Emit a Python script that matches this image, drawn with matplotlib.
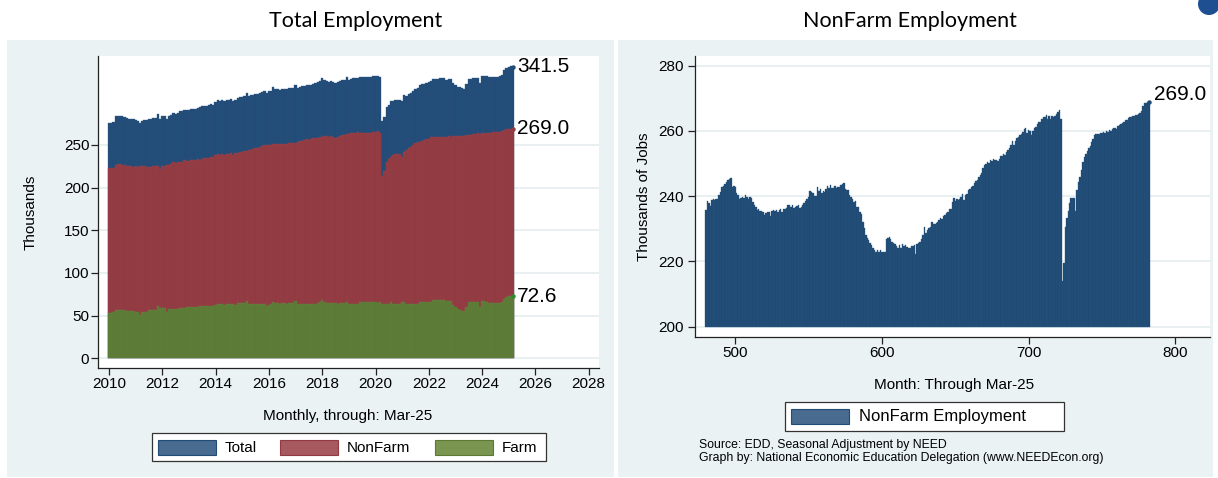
import numpy as np
import matplotlib
matplotlib.use("Agg")
import matplotlib.pyplot as plt
from matplotlib.patches import Rectangle, Circle
import matplotlib.transforms as mtransforms

plt.rcParams['font.family'] = ['Liberation Sans', 'DejaVu Sans']

# ---------------- data (thousands of jobs, monthly) ----------------
# NonFarm employment, Jan-2000 .. Mar-2025 (Stata monthly index 480 .. 782)
nf_2000 = [235.7, 238.5, 237.8, 237.0, 238.8, 239.1, 238.8, 239.1, 239.1, 240.3, 241.3, 242.7]
nf_2001 = [243.2, 243.6, 244.4, 244.9, 245.2, 245.6, 242.9, 243.2, 242.9, 241.1, 240.5, 239.1]
nf_2002 = [239.5, 239.8, 239.5, 240.3, 239.8, 239.1, 239.8, 239.3, 238.3, 237.4, 236.7, 235.7]
nf_2003 = [236.0, 235.4, 235.4, 235.2, 234.2, 234.7, 235.2, 235.2, 234.0, 235.4, 235.7, 235.4]
nf_2004 = [235.7, 235.2, 235.7, 236.0, 235.2, 236.2, 236.0, 236.4, 237.2, 237.4, 236.7, 237.2]
nf_2005 = [236.4, 236.7, 237.0, 237.2, 236.4, 236.7, 237.4, 237.8, 238.5, 239.1, 239.8, 241.5]
nf_2006 = [241.3, 241.1, 240.1, 240.1, 242.9, 241.5, 242.3, 241.1, 241.5, 241.3, 242.3, 243.2]
nf_2007 = [242.6, 243.4, 242.6, 242.6, 243.2, 242.6, 242.9, 242.9, 243.4, 243.6, 243.9, 242.3]
nf_2008 = [241.8, 241.8, 240.3, 239.8, 239.1, 238.3, 238.5, 236.7, 236.7, 235.2, 234.4, 232.1]
nf_2009 = [230.3, 228.1, 227.2, 226.5, 225.5, 225.0, 224.0, 223.5, 223.0, 223.5, 223.0, 223.5]
nf_2010 = [222.8, 223.0, 222.8, 226.8, 227.2, 227.6, 227.0, 226.0, 225.8, 225.2, 224.8, 224.2]
nf_2011 = [225.0, 224.2, 225.2, 224.8, 225.0, 224.5, 224.2, 224.0, 224.8, 224.8, 225.0, 222.4]
nf_2012 = [225.2, 225.5, 226.0, 227.0, 228.1, 230.6, 228.6, 229.6, 230.3, 230.6, 232.1, 231.6]
nf_2013 = [231.6, 231.9, 232.1, 232.7, 233.2, 233.0, 234.0, 234.2, 234.7, 235.0, 236.2, 236.0]
nf_2014 = [238.3, 239.5, 238.5, 239.1, 238.8, 239.1, 239.8, 240.8, 238.8, 240.3, 240.8, 241.8]
nf_2015 = [242.1, 242.9, 243.2, 243.9, 244.6, 244.9, 245.9, 246.6, 247.2, 248.7, 249.5, 250.0]
nf_2016 = [250.5, 250.3, 251.0, 250.7, 251.3, 251.0, 251.0, 250.7, 251.3, 252.3, 252.3, 252.8]
nf_2017 = [252.6, 253.6, 254.1, 254.8, 255.8, 256.8, 255.6, 256.8, 257.7, 258.2, 258.7, 259.2]
nf_2018 = [259.7, 260.7, 260.9, 259.5, 260.2, 259.9, 258.7, 259.9, 260.9, 261.2, 262.2, 262.8]
nf_2019 = [262.6, 263.6, 264.3, 264.3, 264.8, 263.8, 264.6, 263.6, 264.6, 264.3, 264.6, 265.3]
nf_2020 = [265.8, 266.3, 263.8, 214.0, 219.4, 230.6, 233.2, 235.4, 237.8, 239.5, 239.5, 239.3]
nf_2021 = [235.5, 242.0, 244.5, 246.0, 248.0, 250.5, 252.0, 253.0, 254.0, 254.7, 255.5, 256.5]
nf_2022 = [257.5, 258.8, 259.0, 259.2, 259.0, 259.5, 259.3, 259.8, 259.5, 260.0, 259.8, 260.2]
nf_2023 = [260.0, 260.5, 260.8, 261.0, 260.5, 261.5, 261.8, 262.0, 262.5, 262.8, 263.5, 263.2]
nf_2024 = [264.0, 264.2, 264.4, 264.5, 264.6, 264.8, 265.0, 265.2, 265.4, 266.0, 267.5, 268.5]
nf_2025 = [268.6, 268.8, 269.0]

# Farm employment, Jan-2010 .. Mar-2025
fa_2010 = [52.7, 52.7, 53.9, 56.6, 56.6, 56.6, 56.6, 56.6, 56.0, 55.8, 55.8, 55.8]
fa_2011 = [53.9, 53.9, 50.7, 53.9, 53.9, 54.5, 56.6, 56.6, 56.6, 57.0, 61.3, 58.5]
fa_2012 = [58.5, 58.5, 53.9, 57.4, 57.4, 57.4, 57.4, 57.4, 59.4, 59.4, 59.4, 60.0]
fa_2013 = [60.0, 60.0, 60.5, 60.0, 60.5, 61.3, 61.3, 61.3, 61.3, 61.3, 61.8, 61.3]
fa_2014 = [62.0, 63.3, 63.3, 63.3, 62.8, 63.3, 63.3, 63.3, 63.3, 63.0, 64.4, 64.4]
fa_2015 = [64.4, 64.4, 67.2, 63.7, 63.7, 64.0, 63.7, 63.7, 64.0, 63.7, 63.7, 61.3]
fa_2016 = [63.0, 63.5, 66.4, 64.4, 64.4, 64.0, 64.4, 64.4, 64.0, 64.4, 64.4, 64.4]
fa_2017 = [67.2, 63.7, 63.7, 64.0, 63.7, 63.7, 64.2, 63.7, 63.7, 64.0, 65.0, 65.5]
fa_2018 = [68.3, 65.5, 64.4, 64.4, 64.8, 64.4, 64.4, 64.0, 64.4, 64.4, 64.4, 66.4]
fa_2019 = [63.7, 63.7, 63.7, 64.0, 63.7, 65.6, 65.6, 65.6, 65.6, 65.8, 65.6, 65.6]
fa_2020 = [65.6, 64.8, 65.6, 63.7, 63.7, 63.7, 63.7, 65.6, 63.7, 63.7, 63.7, 63.7]
fa_2021 = [66.4, 66.4, 63.3, 63.3, 63.3, 63.3, 63.3, 63.3, 66.4, 66.4, 66.4, 66.4]
fa_2022 = [66.4, 66.4, 68.7, 68.7, 68.7, 68.7, 68.7, 68.7, 67.2, 67.2, 67.2, 62.0]
fa_2023 = [60.0, 58.0, 57.0, 56.0, 55.5, 60.0, 65.6, 65.6, 65.6, 65.6, 65.6, 59.8]
fa_2024 = [67.2, 67.2, 66.0, 65.0, 65.0, 65.0, 65.0, 65.0, 65.0, 66.5, 70.0, 72.0]
fa_2025 = [72.5, 73.5, 72.6]

# latest values as published in the labels: Total, NonFarm, Farm
end_values = [341.5, 269.0, 72.6]

left_xticks = [2010, 2012, 2014, 2016, 2018, 2020, 2022, 2024, 2026, 2028]
left_yticks = [0, 50, 100, 150, 200, 250]
right_xticks = [500, 600, 700, 800]
right_yticks = [200, 220, 240, 260, 280]
legend_left = ["Total", "NonFarm", "Farm"]
legend_right = ["NonFarm Employment"]

nonfarm = np.array(nf_2000 + nf_2001 + nf_2002 + nf_2003 + nf_2004 + nf_2005 + nf_2006
                   + nf_2007 + nf_2008 + nf_2009 + nf_2010 + nf_2011 + nf_2012 + nf_2013
                   + nf_2014 + nf_2015 + nf_2016 + nf_2017 + nf_2018 + nf_2019 + nf_2020
                   + nf_2021 + nf_2022 + nf_2023 + nf_2024 + nf_2025)
farm = np.array(fa_2010 + fa_2011 + fa_2012 + fa_2013 + fa_2014 + fa_2015 + fa_2016
                + fa_2017 + fa_2018 + fa_2019 + fa_2020 + fa_2021 + fa_2022 + fa_2023
                + fa_2024 + fa_2025)
months = np.arange(480, 480 + len(nonfarm))          # Stata %tm index
nonfarm_left = nonfarm[months >= 600]
total = nonfarm_left + farm
years_left = 2010 + (months[months >= 600] - 600) / 12.0

# ---------------- styling ----------------
W, H = 1218, 478
panel_bg = '#eaf2f3'
grid_c = '#e6eff1'
c_total, e_total = '#224b76', '#2d5884'
c_nf, e_nf = '#913a42', '#9b444c'
c_farm, e_farm = '#5a7a35', '#65853f'
leg_total, leg_nf, leg_farm = '#486b8f', '#a65a60', '#7a9550'
axis_c = '#222222'

fig = plt.figure(figsize=(W / 100, H / 100), dpi=100)
fig.patch.set_facecolor('white')
px = mtransforms.Affine2D().scale(1 / W, -1 / H).translate(0, 1) + fig.transFigure


def rect(x, y, w, h, **kw):
    r = Rectangle((x, y), w, h, transform=px, **kw)
    fig.add_artist(r)
    return r


# panel backgrounds
rect(7, 40, 607, 437, facecolor=panel_bg, edgecolor='none', zorder=0)
rect(618, 40, 595, 437, facecolor=panel_bg, edgecolor='none', zorder=0)
fig.add_artist(Circle((1209, 4), 11, transform=px, facecolor='#1d4f91', edgecolor='none', zorder=5))


def add_ax(x0, x1, y0, y1):
    return fig.add_axes([x0 / W, 1 - y1 / H, (x1 - x0) / W, (y1 - y0) / H])


def style_axes(ax, ypad):
    ax.set_facecolor('white')
    for s in ('top', 'right'):
        ax.spines[s].set_visible(False)
    for s in ('left', 'bottom'):
        ax.spines[s].set_color(axis_c)
        ax.spines[s].set_linewidth(0.9)
    ax.tick_params(axis='both', colors=axis_c, labelcolor='black', length=5, width=0.9, labelsize=11)
    ax.tick_params(axis='x', pad=1.5)
    ax.tick_params(axis='y', pad=ypad)
    ax.yaxis.grid(True, color=grid_c, linewidth=1.3)
    ax.set_axisbelow(True)


# ---------------- left: Total Employment ----------------
ax1 = add_ax(98.4, 599, 56, 367.7)
style_axes(ax1, 1.5)
bw = 1 / 12
ax1.bar(years_left, total, width=bw, color=c_total, edgecolor=e_total, linewidth=0.25)
ax1.bar(years_left, nonfarm_left, width=bw, color=c_nf, edgecolor=e_nf, linewidth=0.25)
ax1.bar(years_left, farm, width=bw, color=c_farm, edgecolor=e_farm, linewidth=0.25)
ax1.set_xlim(2009.602, 2028.386)
ax1.set_ylim(-11.0, 354.3)
ax1.set_xticks(left_xticks)
ax1.set_yticks(left_yticks)
for v, c in zip(end_values, [c_total, c_nf, '#2e8b2e']):
    ax1.plot([years_left[-1]], [v], 'o', ms=2.2, color=c, zorder=5, clip_on=False)
    ax1.annotate(f"{v:.1f}", xy=(years_left[-1], v), xytext=(4, 0), textcoords='offset pixels',
                 ha='left', va='center', fontsize=15, annotation_clip=False)

# ---------------- right: NonFarm Employment ----------------
ax2 = add_ax(695.3, 1210, 56, 336.7)
style_axes(ax2, 3)
base = 200
ax2.bar(months, nonfarm - base, bottom=base, width=1.0, color='#1f4a72', edgecolor='#28557f', linewidth=0.25)
ax2.set_xlim(472.77, 823.6)
ax2.set_ylim(196.93, 282.97)
ax2.set_xticks(right_xticks)
ax2.set_yticks(right_yticks)
ax2.plot([months[-1]], [nonfarm[-1]], 'o', ms=2.2, color='#1f4a72', zorder=5, clip_on=False)
ax2.annotate(f"{end_values[1]:.1f}", xy=(months[-1], nonfarm[-1]), xytext=(5, 7.5),
             textcoords='offset pixels', ha='left', va='center', fontsize=15, annotation_clip=False)

# ---------------- texts ----------------
fig.text(356 / W, 1 - 21 / H, "Total Employment", family=['Lato', 'DejaVu Sans'], fontsize=15.5,
         ha='center', va='center')
fig.text(910 / W, 1 - 21 / H, "NonFarm Employment", family=['Lato', 'DejaVu Sans'], fontsize=15.5,
         ha='center', va='center')
fig.text(31 / W, 1 - 212 / H, "Thousands", rotation=90, ha='center', va='center', fontsize=11)
fig.text(644 / W, 1 - 196.4 / H, "Thousands of Jobs", rotation=90, ha='center', va='center', fontsize=11)
fig.text(348 / W, 1 - 416 / H, "Monthly, through: Mar-25", ha='center', va='center', fontsize=11)
fig.text(954 / W, 1 - 385 / H, "Month: Through Mar-25", ha='center', va='center', fontsize=11)

# left legend
rect(152, 433.3, 394, 27.7, facecolor='white', edgecolor='#333333', linewidth=0.9, zorder=3)
for (x_patch, x_text), lab, fc, ec in zip([(158, 225), (280, 347), (435, 502)], legend_left,
                                          [leg_total, leg_nf, leg_farm], [c_total, c_nf, c_farm]):
    rect(x_patch, 440, 57.5, 15, facecolor=fc, edgecolor=ec, linewidth=0.8, zorder=4)
    fig.text(x_text / W, 1 - 448 / H, lab, ha='left', va='center', fontsize=11, zorder=4)

# right legend
rect(785, 402, 279, 29, facecolor='white', edgecolor='#333333', linewidth=0.9, zorder=3)
rect(791, 409, 57.5, 15, facecolor=leg_total, edgecolor=c_total, linewidth=0.8, zorder=4)
fig.text(859 / W, 1 - 416.5 / H, legend_right[0], ha='left', va='center', fontsize=12, zorder=4)

fig.text(699 / W, 1 - 445 / H, "Source: EDD, Seasonal Adjustment by NEED", ha='left', va='center', fontsize=8.8)
fig.text(699 / W, 1 - 457.5 / H, "Graph by: National Economic Education Delegation (www.NEEDEcon.org)",
         ha='left', va='center', fontsize=8.8)

fig.savefig("out.png", dpi=100, facecolor='white')
